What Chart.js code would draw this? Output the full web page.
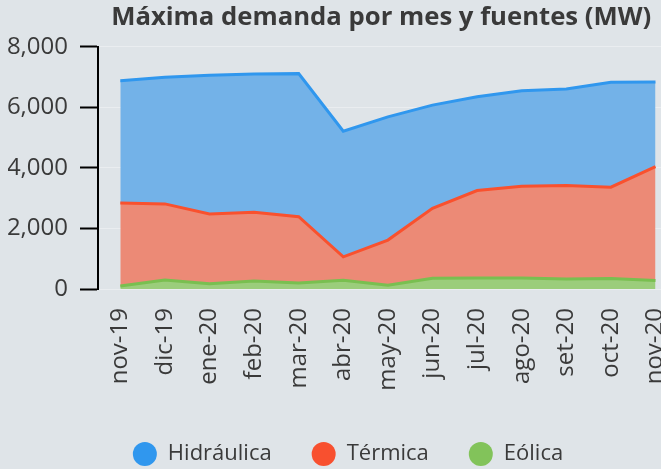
<!DOCTYPE html>
<html>
<head>
<meta charset="utf-8">
<script src="https://cdn.jsdelivr.net/npm/chart.js@4/dist/chart.umd.min.js"></script>
<style>
  html, body { margin: 0; padding: 0; background: #dfe4e8; overflow: hidden; }
  #wrap { width: 696px; height: 469px; }
</style>
</head>
<body>
<div id="wrap"><canvas id="demandaChart"></canvas></div>
<script>
// Meses
var meses = ['nov-19', 'dic-19', 'ene-20', 'feb-20', 'mar-20', 'abr-20', 'may-20',
             'jun-20', 'jul-20', 'ago-20', 'set-20', 'oct-20', 'nov-20'];

// MW por fuente (valores apilados)
var hidraulica = [4036, 4182, 4581, 4571, 4725, 4150, 4071, 3409, 3098, 3154, 3187, 3464, 2800];
var termica    = [2744, 2511, 2302, 2268, 2190, 774, 1494, 2312, 2888, 3031, 3087, 3020, 3760];
var eolica     = [100, 300, 177, 265, 200, 288, 122, 354, 365, 365, 332, 343, 280];

var yTicks = [0, 2000, 4000, 6000, 8000];

Chart.defaults.font.family = '"Open Sans", sans-serif';
Chart.defaults.color = '#3a3a3a';

var ctx = document.getElementById('demandaChart').getContext('2d');
var myChart = new Chart(ctx, {
    type: 'line',
    data: {
        labels: meses,
        datasets: [
            {
                label: 'Eólica',
                data: eolica,
                borderColor: '#79bf50',
                backgroundColor: '#9bcd7b',
                pointBackgroundColor: '#82c35a',
                fill: 'origin'
            },
            {
                label: 'Térmica',
                data: termica,
                borderColor: '#f9512e',
                backgroundColor: '#ec8a76',
                pointBackgroundColor: '#f8502f',
                fill: '-1'
            },
            {
                label: 'Hidráulica',
                data: hidraulica,
                borderColor: '#3097ee',
                backgroundColor: '#73b2e8',
                pointBackgroundColor: '#3097ee',
                fill: '-1'
            }
        ]
    },
    options: {
        responsive: true,
        maintainAspectRatio: false,
        animation: false,
        layout: { padding: { left: 8, right: 8, bottom: -6 } },
        elements: {
            line: { borderWidth: 3, tension: 0 },
            point: { radius: 0, hoverRadius: 0 }
        },
        plugins: {
            title: {
                display: true,
                // espacios finales para correr el título un poco a la izquierda
                text: 'Máxima demanda por mes y fuentes (MW)  ',
                fullSize: false,
                font: { size: 25.7, weight: 'bold' },
                color: '#3a3a3a',
                padding: { top: 2, bottom: 14 }
            },
            legend: {
                position: 'bottom',
                reverse: true,
                labels: {
                    usePointStyle: true,
                    pointStyle: 'circle',
                    boxHeight: 17,
                    pointStyleWidth: 24,
                    padding: 40,
                    font: { size: 22 },
                    color: '#3a3a3a',
                    generateLabels: function (chart) {
                        var items = Chart.defaults.plugins.legend.labels.generateLabels(chart);
                        items.forEach(function (it) {
                            var ds = chart.data.datasets[it.datasetIndex];
                            it.fillStyle = ds.pointBackgroundColor;
                            it.strokeStyle = ds.pointBackgroundColor;
                            it.lineWidth = 0;
                        });
                        return items;
                    }
                }
            },
            tooltip: { enabled: false }
        },
        scales: {
            x: {
                offset: true,
                grid: { display: false },
                border: { display: false },
                ticks: {
                    minRotation: 90,
                    maxRotation: 90,
                    padding: 11,
                    font: { size: 24 },
                    color: '#3a3a3a'
                },
                afterFit: function (s) { s.height = 114; }
            },
            y: {
                stacked: true,
                min: 0,
                max: 8000,
                afterBuildTicks: function (s) {
                    s.ticks = yTicks.map(function (v) { return { value: v }; });
                },
                grid: {
                    color: 'rgba(255,255,255,0.35)',
                    lineWidth: 1,
                    tickColor: '#000',
                    tickWidth: 2,
                    tickLength: 18
                },
                border: { display: true, color: '#000', width: 2 },
                ticks: {
                    padding: 12,
                    font: { size: 24 },
                    color: '#3a3a3a',
                    callback: function (v) { return v.toLocaleString('en-US'); }
                },
                afterFit: function (s) { s.width = 90; }
            }
        }
    }
});
</script>
</body>
</html>
